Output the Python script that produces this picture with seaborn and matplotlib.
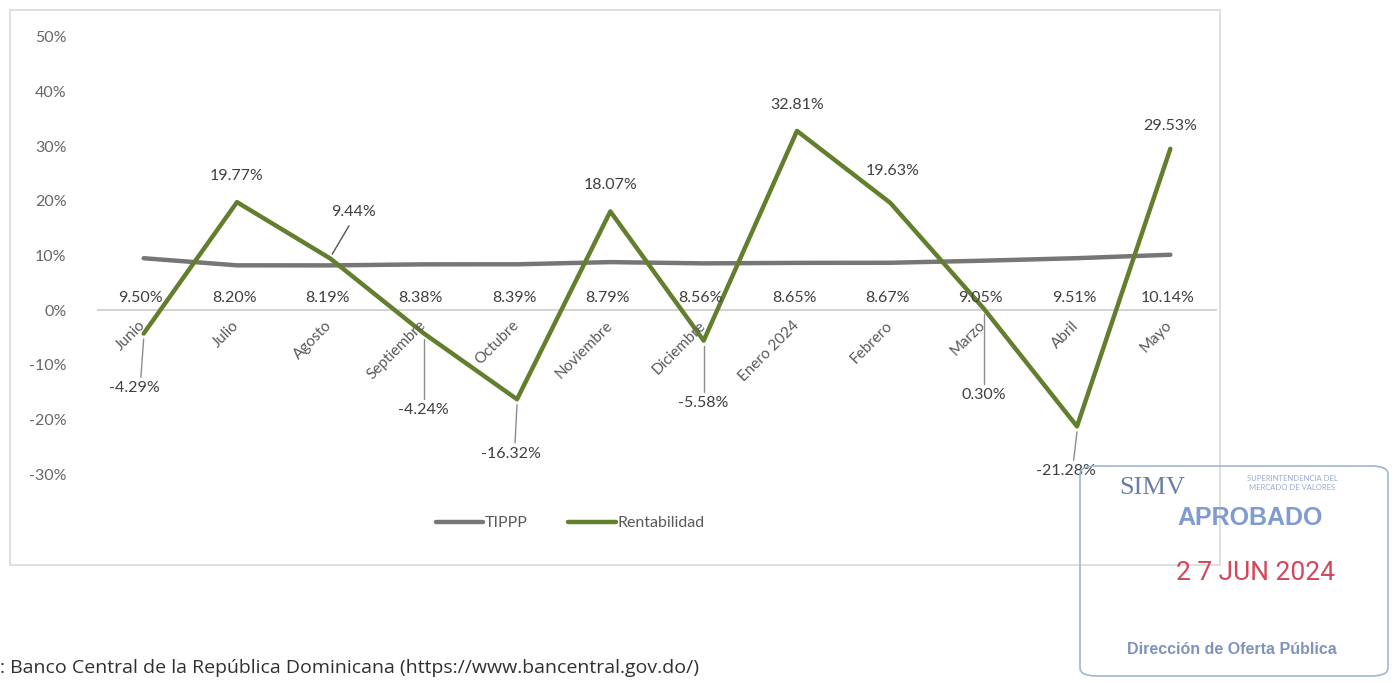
import numpy as np
import pandas as pd
import matplotlib
matplotlib.use("Agg")
import matplotlib.pyplot as plt
from matplotlib.patches import Rectangle, FancyBboxPatch
import seaborn as sns

# datos del gráfico
meses = ['Junio', 'Julio', 'Agosto', 'Septiembre', 'Octubre', 'Noviembre',
         'Diciembre', 'Enero 2024', 'Febrero', 'Marzo', 'Abril', 'Mayo']
tippp = [9.50, 8.20, 8.19, 8.38, 8.39, 8.79, 8.56, 8.65, 8.67, 9.05, 9.51, 10.14]
rentabilidad = [-4.29, 19.77, 9.44, -4.24, -16.32, 18.07, -5.58, 32.81, 19.63, 0.30, -21.28, 29.53]
y_ticks = [-30, -20, -10, 0, 10, 20, 30, 40, 50]

sns.set_style("white")
plt.rcParams['font.family'] = ['Lato', 'DejaVu Sans']

df = pd.DataFrame({
    'pos': list(range(len(meses))) * 2,
    'valor': tippp + rentabilidad,
    'serie': ['TIPPP'] * len(meses) + ['Rentabilidad'] * len(meses),
})

gris = '#767676'
verde = '#637F2E'
texto = '#595959'

fig = plt.figure(figsize=(13.94, 6.83), dpi=100)
fig.patch.set_facecolor('white')
fig.patches.append(Rectangle((10 / 1394, 1 - 565 / 683), 1210 / 1394, 555 / 683,
                             transform=fig.transFigure, fill=False,
                             edgecolor='#d9d9d9', linewidth=1.2))

ax = fig.add_axes([97 / 1394, (683 - 474) / 683, 1120 / 1394, 437 / 683])
ax.axhline(0, color='#d0d0d0', linewidth=1.3, zorder=1)
sns.lineplot(data=df, x='pos', y='valor', hue='serie',
             palette={'TIPPP': gris, 'Rentabilidad': verde},
             linewidth=3.2, ax=ax, legend=False, zorder=3)

ax.set_xlim(-0.5, len(meses) - 0.5)
ax.set_ylim(-30, 50)
ax.set_yticks(y_ticks)
ax.set_yticklabels([f'{t}%' for t in y_ticks], color='#666666', fontsize=11.5)
ax.tick_params(axis='y', length=0, pad=22)
ax.set_xticks([])
ax.set_xlabel('')
ax.set_ylabel('')
for s in ax.spines.values():
    s.set_visible(False)

# etiquetas de meses (rotadas, pegadas al eje 0)
for i, m in enumerate(meses):
    ax.text(i + 0.05, -1.5, m, rotation=45, ha='right', va='top',
            fontsize=11, color=texto, rotation_mode='default')

# etiquetas TIPPP
for i, v in enumerate(tippp):
    ax.text(i - 0.03, 1.0, f'{v:.2f}%', ha='center', va='bottom',
            fontsize=11.5, color='#404040')

# etiquetas rentabilidad (desplazamiento en puntos porcentuales)
offs = [(-0.1, -10.0), (0, 4.8), (0.25, 8.5), (0, -14.0), (-0.07, -10.0),
        (0, 4.8), (0, -11.5), (0, 4.8), (0.02, 5.8), (0, -15.8), (-0.12, -8.2), (0, 4.2)]
leaders = [True, False, True, True, True, False, True, False, False, True, True, False]
for i, (v, (dx, dy)) in enumerate(zip(rentabilidad, offs)):
    ax.text(i + dx, v + dy, f'{v:.2f}%', ha='center', va='center',
            fontsize=11.5, color='#404040', clip_on=False)
    if leaders[i]:
        if dy < 0:
            ax.plot([i, i + dx * 0.3], [v - 1.0, v + dy + 2.0], color='#8c8c8c',
                    linewidth=1.0, zorder=2)
        else:
            ax.plot([i + 0.02, i + dx * 0.8], [v + 0.8, v + dy - 2.5], color='#555555',
                    linewidth=1.0, zorder=2)

# leyenda
h1, = ax.plot([], [], color=gris, linewidth=3.2, label='TIPPP')
h2, = ax.plot([], [], color=verde, linewidth=3.2, label='Rentabilidad')
fig.legend(handles=[h1, h2], loc='center', bbox_to_anchor=(570 / 1394, 1 - 523 / 683),
           ncol=2, frameon=False, fontsize=11.5, handlelength=3.0, handletextpad=0.1,
           columnspacing=2.5, labelcolor=texto)

# fuente
fig.text(0.0, 1 - 668 / 683, ': Banco Central de la República Dominicana (https://www.bancentral.gov.do/)',
         fontsize=14, color='#303030', va='center', ha='left', family=['Open Sans', 'DejaVu Sans'])

# sello
fig.patches.append(FancyBboxPatch((1080 / 1394, 1 - 676 / 683), 308 / 1394, 210 / 683,
                                  boxstyle='round,pad=0,rounding_size=0.012',
                                  transform=fig.transFigure, fill=False,
                                  edgecolor='#9fb6d6', linewidth=1.2))
fig.text(1152 / 1394, 1 - 488 / 683, 'SIMV', fontsize=19, color='#6a7fa8', ha='center',
         va='center', family=['Liberation Serif', 'DejaVu Serif'])
fig.text(1292 / 1394, 1 - 483 / 683, 'SUPERINTENDENCIA DEL\nMERCADO DE VALORES', fontsize=5.5,
         color='#9aaad0', ha='center', va='center', linespacing=1.2)
fig.text(1250 / 1394, 1 - 518 / 683, 'APROBADO', fontsize=18, color='#7f9bd0', ha='center',
         va='center', family=['Liberation Sans', 'DejaVu Sans'], fontweight='bold')
fig.text(1255 / 1394, 1 - 573 / 683, '2 7 JUN 2024', fontsize=19, color='#d2475a', ha='center',
         va='center', family=['Roboto', 'DejaVu Sans'])
fig.text(1232 / 1394, 1 - 649 / 683, 'Dirección de Oferta Pública', fontsize=11.5, color='#7e93bd',
         ha='center', va='center', family=['Liberation Sans', 'DejaVu Sans'], fontweight='bold')

fig.savefig('out.png', dpi=100)
